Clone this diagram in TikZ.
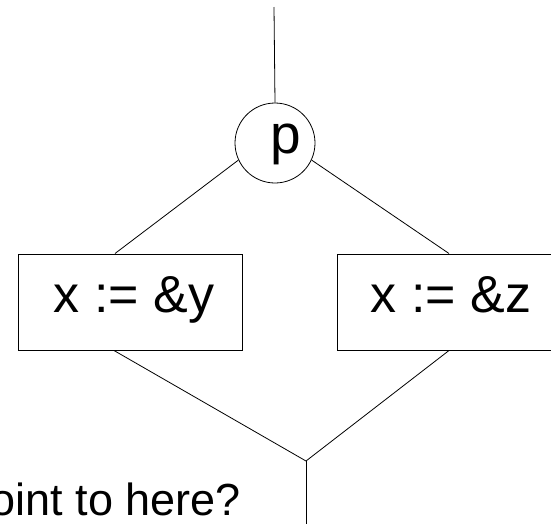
\documentclass[tikz,border=0pt]{standalone}
\usepackage{fontspec}
\setmainfont{Liberation Sans}
\begin{document}
\begin{tikzpicture}[x=1pt,y=-1pt,
  conn/.style={draw=black,line width=0.8pt},
  stmtbox/.style={draw=black,line width=1pt,minimum height=96pt,inner sep=0pt},
  stmttext/.style={font=\fontsize{52}{60}\selectfont,anchor=base,inner sep=0pt},
  condnode/.style={draw=black,line width=0.8pt,circle,minimum size=80pt,inner sep=0pt}]
\useasboundingbox (0,0) rectangle (551,523);
\clip (0,0) rectangle (551,523);
\node[condnode] (p) at (275,143) {};
\node[font=\fontsize{55}{60}\selectfont,anchor=base,inner sep=0pt] (ptext) at (286,153) {p};
\node[stmtbox,minimum width=224pt] (lbox) at (130,302) {};
\node[stmtbox,minimum width=218pt] (rbox) at (446,302) {};
\node[stmttext] (ltext) at (134,312) {x := \&y};
\node[stmttext] (rtext) at (451,312) {x := \&z};
\coordinate (top) at (274,7);
\coordinate (j) at (306,461);
\coordinate (bot) at (306,530);
\draw[conn] (top) -- (p.north);
\draw[conn] (p.205) -- ([xshift=-15pt]lbox.north);
\draw[conn] (p.335) -- ([xshift=3pt]rbox.north);
\draw[conn] ([xshift=-16pt]lbox.south) -- (j);
\draw[conn] ([xshift=3pt]rbox.south) -- (j);
\draw[conn] (j) -- (bot);
\node[font=\fontsize{45}{50}\selectfont,anchor=base east,inner sep=0pt] (q) at (241,515) {oint to here?};
\end{tikzpicture}
\end{document}
